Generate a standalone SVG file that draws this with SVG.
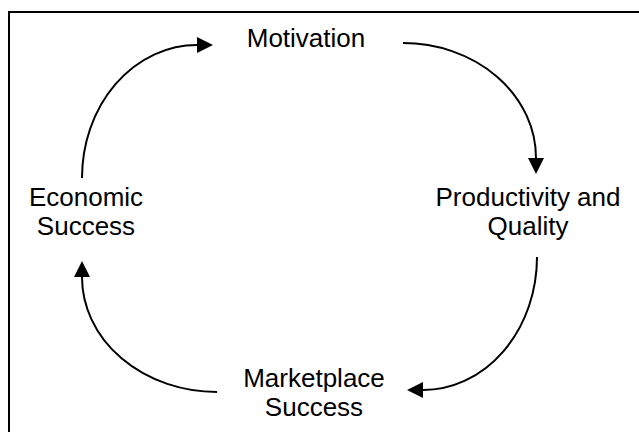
<svg xmlns="http://www.w3.org/2000/svg" width="639" height="432" viewBox="0 0 639 432">
<style>
.lbl{font-family:"Liberation Sans",Arial,sans-serif;font-size:26px;fill:#000;text-anchor:middle}
.con{fill:none;stroke:#000;stroke-width:2}
.frame{fill:none;stroke:#000;stroke-width:2}
</style>
<defs>
<marker id="arr" viewBox="0 0 16 16" refX="0" refY="8" markerWidth="16" markerHeight="16" markerUnits="userSpaceOnUse" orient="auto">
<path d="M0,0 L16,8 L0,16 z" fill="#000"/>
</marker>
</defs>
<rect width="639" height="432" fill="#fff"/>
<path class="frame" d="M9,440 L9,12 L650,12"/>
<g id="motivation"><text class="lbl" x="306" y="47">Motivation</text></g>
<g id="productivity"><text class="lbl" x="528" y="206">Productivity and</text><text class="lbl" x="528" y="235">Quality</text></g>
<g id="marketplace"><text class="lbl" x="314" y="387">Marketplace</text><text class="lbl" x="314" y="416">Success</text></g>
<g id="economic"><text class="lbl" x="86" y="206">Economic</text><text class="lbl" x="86" y="235">Success</text></g>
<g id="connectors">
<path class="con" marker-end="url(#arr)" d="M82,178 A115,133 0 0 1 197,45"/>
<path class="con" marker-end="url(#arr)" d="M403,43 A133,115 0 0 1 536,158"/>
<path class="con" marker-end="url(#arr)" d="M537,257 A114,133 0 0 1 423,390"/>
<path class="con" marker-end="url(#arr)" d="M217,392 A135,115 0 0 1 82,277"/>
</g>
</svg>
